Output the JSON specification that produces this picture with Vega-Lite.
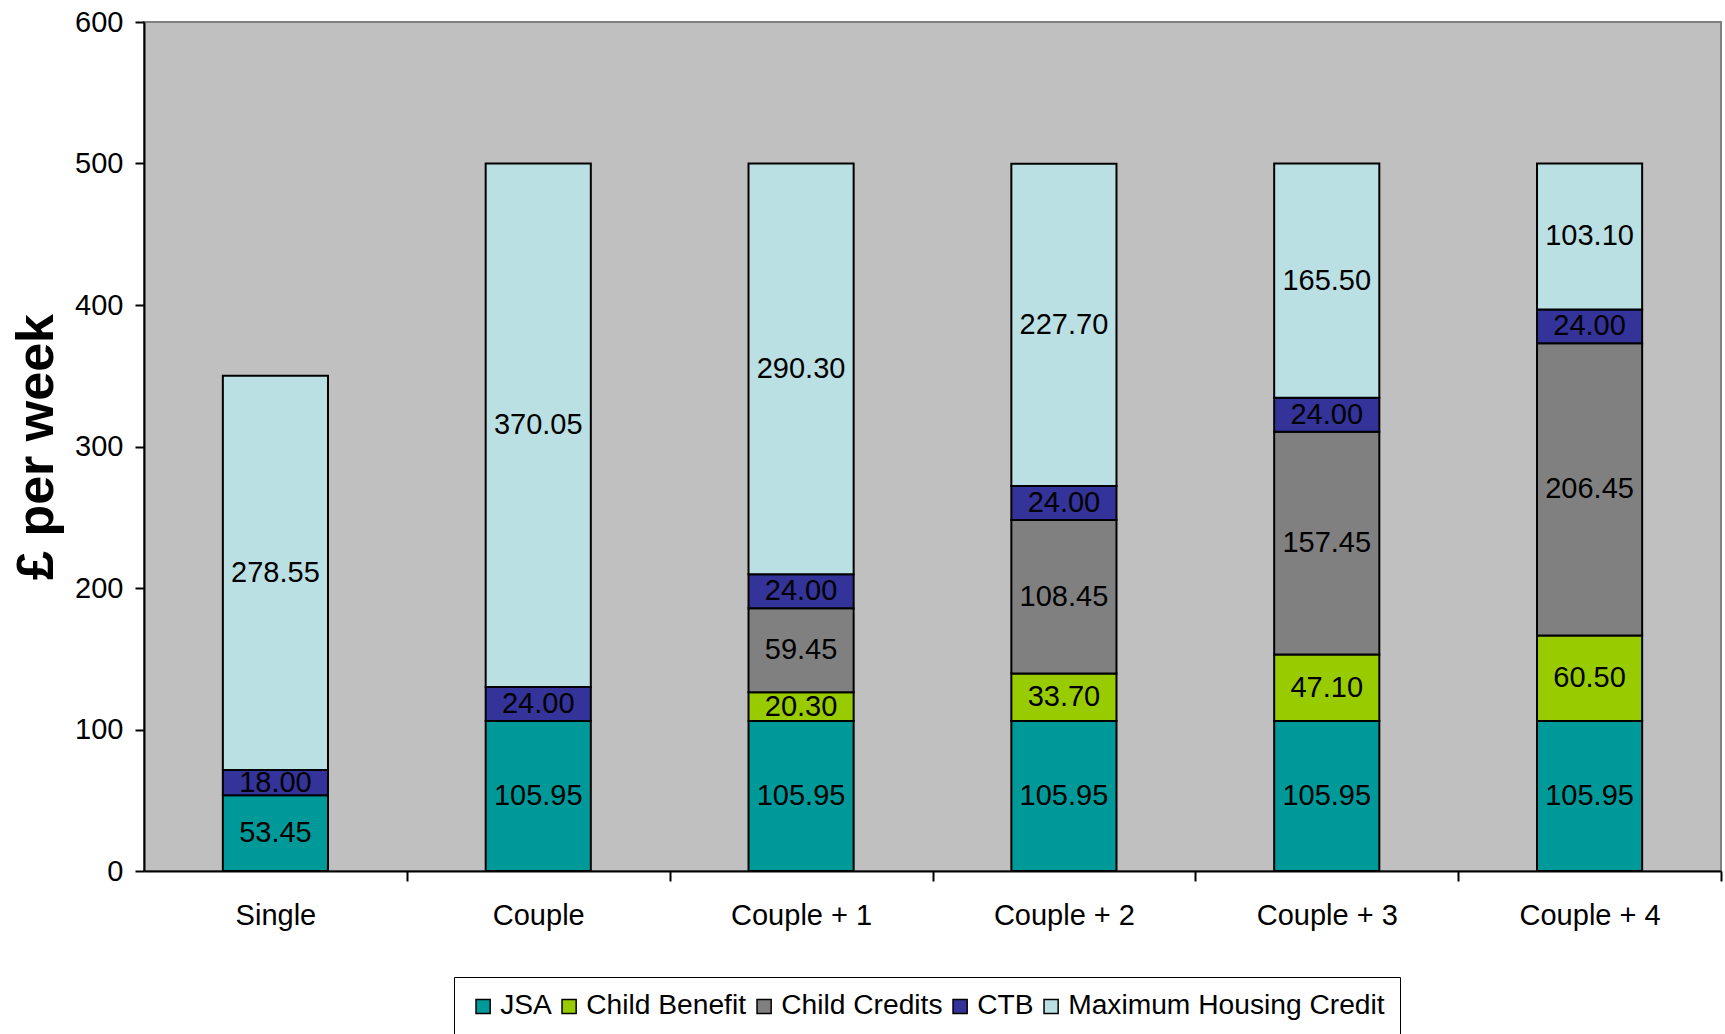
{
  "$schema": "https://vega.github.io/schema/vega-lite/v6.json",
  "width": 1577,
  "height": 849,
  "autosize": {"type": "none"},
  "padding": {"left": 144, "top": 22, "right": 4, "bottom": 163},
  "background": "white",
  "config": {
    "font": "Liberation Sans",
    "view": {"fill": "#C0C0C0", "stroke": "#808080", "strokeWidth": 2}
  },
  "data": {
    "values": [
      {"group": "Single", "series": "JSA", "k": 1, "value": 53.45},
      {"group": "Single", "series": "CTB", "k": 4, "value": 18.00},
      {"group": "Single", "series": "Maximum Housing Credit", "k": 5, "value": 278.55},
      {"group": "Couple", "series": "JSA", "k": 1, "value": 105.95},
      {"group": "Couple", "series": "CTB", "k": 4, "value": 24.00},
      {"group": "Couple", "series": "Maximum Housing Credit", "k": 5, "value": 370.05},
      {"group": "Couple + 1", "series": "JSA", "k": 1, "value": 105.95},
      {"group": "Couple + 1", "series": "Child Benefit", "k": 2, "value": 20.30},
      {"group": "Couple + 1", "series": "Child Credits", "k": 3, "value": 59.45},
      {"group": "Couple + 1", "series": "CTB", "k": 4, "value": 24.00},
      {"group": "Couple + 1", "series": "Maximum Housing Credit", "k": 5, "value": 290.30},
      {"group": "Couple + 2", "series": "JSA", "k": 1, "value": 105.95},
      {"group": "Couple + 2", "series": "Child Benefit", "k": 2, "value": 33.70},
      {"group": "Couple + 2", "series": "Child Credits", "k": 3, "value": 108.45},
      {"group": "Couple + 2", "series": "CTB", "k": 4, "value": 24.00},
      {"group": "Couple + 2", "series": "Maximum Housing Credit", "k": 5, "value": 227.70},
      {"group": "Couple + 3", "series": "JSA", "k": 1, "value": 105.95},
      {"group": "Couple + 3", "series": "Child Benefit", "k": 2, "value": 47.10},
      {"group": "Couple + 3", "series": "Child Credits", "k": 3, "value": 157.45},
      {"group": "Couple + 3", "series": "CTB", "k": 4, "value": 24.00},
      {"group": "Couple + 3", "series": "Maximum Housing Credit", "k": 5, "value": 165.50},
      {"group": "Couple + 4", "series": "JSA", "k": 1, "value": 105.95},
      {"group": "Couple + 4", "series": "Child Benefit", "k": 2, "value": 60.50},
      {"group": "Couple + 4", "series": "Child Credits", "k": 3, "value": 206.45},
      {"group": "Couple + 4", "series": "CTB", "k": 4, "value": 24.00},
      {"group": "Couple + 4", "series": "Maximum Housing Credit", "k": 5, "value": 103.10}
    ]
  },
  "encoding": {
    "x": {
      "field": "group",
      "type": "nominal",
      "sort": ["Single", "Couple", "Couple + 1", "Couple + 2", "Couple + 3", "Couple + 4"],
      "scale": {"paddingInner": 0.6, "paddingOuter": 0.3},
      "axis": {
        "title": null,
        "labelAngle": 0,
        "tickOffset": 131.42,
        "labelOffset": -131.42,
        "tickSize": 10,
        "tickColor": "black",
        "tickWidth": 2,
        "domainColor": "black",
        "domainWidth": 2,
        "labelFontSize": 29,
        "labelPadding": 20,
        "labelColor": "black"
      }
    },
    "y": {
      "field": "value",
      "type": "quantitative",
      "stack": "zero",
      "scale": {"domain": [0, 600], "nice": false},
      "axis": {
        "title": "£ per week",
        "titleFontSize": 52,
        "titleFontWeight": "bold",
        "titleColor": "black",
        "titleX": -108,
        "titleY": 424.5,
        "titleAngle": -90,
        "titleAlign": "center",
        "titleBaseline": "middle",
        "values": [0, 100, 200, 300, 400, 500, 600],
        "grid": false,
        "domainColor": "black",
        "domainWidth": 2,
        "tickColor": "black",
        "tickWidth": 2,
        "tickSize": 9,
        "labelFontSize": 29,
        "labelPadding": 12,
        "labelColor": "black"
      }
    },
    "order": {"field": "k", "type": "quantitative"}
  },
  "layer": [
    {
      "mark": {"type": "bar", "stroke": "black", "strokeWidth": 2},
      "encoding": {
        "color": {
          "field": "series",
          "type": "nominal",
          "scale": {
            "domain": ["JSA", "Child Benefit", "Child Credits", "CTB", "Maximum Housing Credit"],
            "range": ["#009999", "#99CC00", "#808080", "#333399", "#BBE0E3"]
          },
          "legend": {
            "title": null,
            "orient": "none",
            "legendX": 310,
            "legendY": 955,
            "direction": "horizontal",
            "columns": 5,
            "labelFontSize": 28.2,
            "labelLimit": 0,
            "labelColor": "black",
            "symbolType": "square",
            "symbolSize": 200,
            "symbolStrokeColor": "black",
            "symbolStrokeWidth": 1.5,
            "strokeColor": "black",
            "fillColor": "white",
            "padding": 15,
            "columnPadding": 3,
            "labelOffset": 3
          }
        }
      }
    },
    {
      "mark": {"type": "text", "fontSize": 29, "color": "black", "baseline": "middle"},
      "encoding": {
        "y": {"field": "value", "type": "quantitative", "stack": "zero", "bandPosition": 0.5},
        "detail": {"field": "series", "type": "nominal"},
        "text": {"field": "value", "type": "quantitative", "format": ".2f"}
      }
    }
  ]
}
